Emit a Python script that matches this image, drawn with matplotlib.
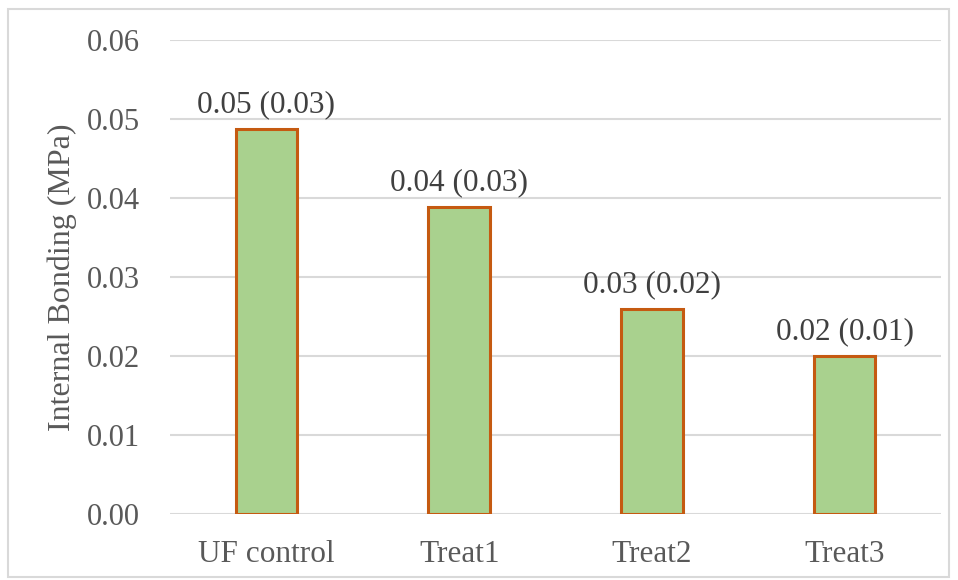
import matplotlib.pyplot as plt
from matplotlib.patches import Rectangle

categories = ['UF control', 'Treat1', 'Treat2', 'Treat3']
means = [0.0487, 0.0389, 0.0260, 0.0200]
labels = ['0.05 (0.03)', '0.04 (0.03)', '0.03 (0.02)', '0.02 (0.01)']
yticks = [0.00, 0.01, 0.02, 0.03, 0.04, 0.05, 0.06]

plt.rcParams['font.family'] = ['Liberation Serif', 'DejaVu Serif']
txt = '#595959'

fig = plt.figure(figsize=(9.58, 5.8), dpi=100)
ax = fig.add_axes([170 / 958, 1 - 514 / 580, 771 / 958, 474 / 580])

x = range(len(categories))
ax.bar(x, means, width=0.32, color='#A9D18E', edgecolor='#C55A11', linewidth=2.2, zorder=3)
for i, (m, lab) in enumerate(zip(means, labels)):
    ax.annotate(lab, (i, m), xytext=(0, 7), textcoords='offset points',
                ha='center', va='bottom', fontsize=22.5, color='#404040')

ax.set_xlim(-0.5, 3.5)
ax.set_ylim(0, 0.06)
ax.set_yticks(yticks)
ax.set_yticklabels(['%.2f' % t for t in yticks])
ax.set_xticks(list(x))
ax.set_xticklabels(categories)
ax.tick_params(length=0, colors=txt)
ax.tick_params(axis='y', pad=21.5, labelsize=22)
ax.tick_params(axis='x', pad=19, labelsize=22.5)
ax.yaxis.grid(True, color='#d9d9d9', linewidth=1.5, zorder=0)
for s in ax.spines.values():
    s.set_visible(False)
ax.set_ylabel('Internal Bonding (MPa)', fontsize=23, color=txt, labelpad=7)

fig.patches.append(Rectangle((8 / 958, 1 - 577 / 580), 941 / 958, 568 / 580,
                             transform=fig.transFigure, fill=False,
                             edgecolor='#d9d9d9', linewidth=1.5))

fig.savefig('out.png', dpi=100)
